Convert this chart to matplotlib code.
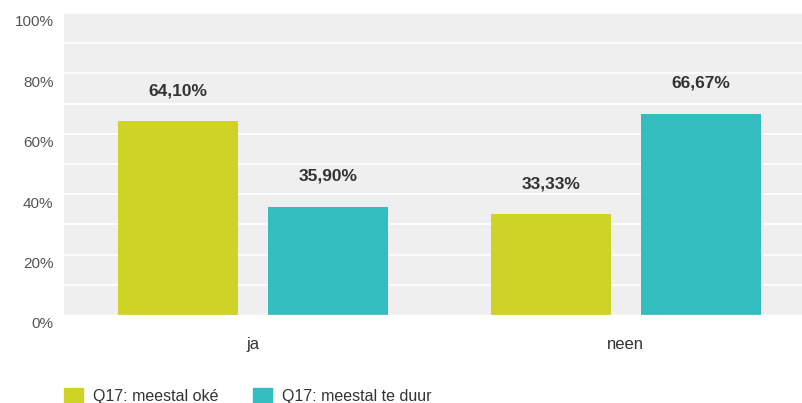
import matplotlib
matplotlib.use("Agg")
import matplotlib.pyplot as plt
from matplotlib.patches import Rectangle
from matplotlib.transforms import ScaledTranslation
import numpy as np

plt.rcParams['font.family'] = ['Liberation Sans', 'DejaVu Sans']

# answers and the share per group (percent)
categories = ["ja", "neen"]
series_names = ["Q17: meestal oké", "Q17: meestal te duur"]
oke_values = [64.10, 33.33]
duur_values = [35.90, 66.67]
y_ticks = [0, 20, 40, 60, 80, 100]

colors = ["#cfd328", "#33bdbf"]

fig = plt.figure(figsize=(8.03, 4.03), dpi=100)
ax = fig.add_axes([64 / 803, 88 / 403, 739 / 803, 302 / 403])
ax.set_facecolor("#efefef")

x = np.arange(len(categories))
width = 0.322
offset = 0.201
for vals, off, col in [(oke_values, -offset, colors[0]), (duur_values, offset, colors[1])]:
    bars = ax.bar(x + off, vals, width=width, color=col, zorder=3)
    for b, v in zip(bars, vals):
        ax.annotate(f"{v:.2f}%".replace(".", ","),
                    (b.get_x() + b.get_width() / 2, v),
                    xytext=(0, 22), textcoords="offset points",
                    ha="center", va="center", fontsize=12.5,
                    fontweight="bold", color="#333333")

ax.set_xlim(-0.507, 1.475)
ax.set_ylim(0, 100)
ax.set_yticks(y_ticks)
ax.set_yticklabels([f"{t}%" for t in y_ticks], fontsize=11, color="#555555")
ax.set_yticks(np.arange(0, 101, 10), minor=True)
ax.set_xticks(x)
ax.set_xticklabels(categories, fontsize=12, color="#333333")
ax.tick_params(axis="both", which="both", length=0)
ax.tick_params(axis="y", pad=7.5)
ax.tick_params(axis="x", pad=16)
# percent labels sit a little below their gridline
shift = ScaledTranslation(0, -8 / 100, fig.dpi_scale_trans)
for lbl in ax.get_yticklabels():
    lbl.set_transform(lbl.get_transform() + shift)
ax.grid(axis="y", which="both", color="white", linewidth=1.2, zorder=1)
for s in ax.spines.values():
    s.set_visible(False)
ax.axhline(0, color="#dddddd", linewidth=1, zorder=4)

# legend along the bottom edge
for i, (name, col) in enumerate(zip(series_names, colors)):
    x0 = (64 + i * 189) / 803
    fig.patches.append(Rectangle((x0, 0), 19 / 803, 15 / 403,
                                 transform=fig.transFigure, color=col))
    fig.text(x0 + 29 / 803, 6 / 403, name, fontsize=11.5, color="#333333",
             va="center", ha="left")

fig.savefig("out.png", dpi=100)
